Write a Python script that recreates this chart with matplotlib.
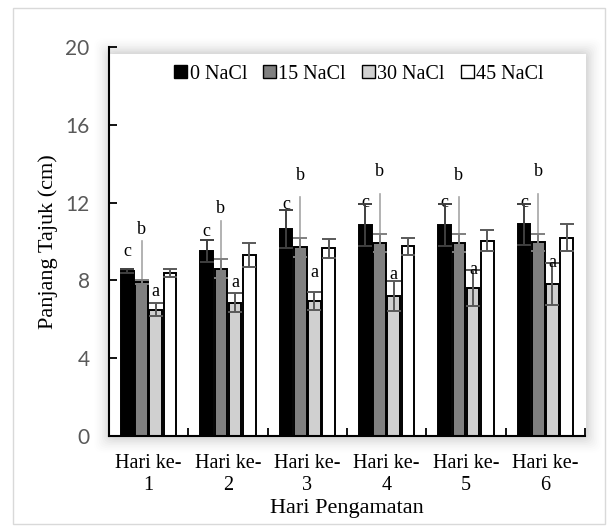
import matplotlib
matplotlib.use("Agg")
import matplotlib.pyplot as plt
import numpy as np
from matplotlib.patches import FancyBboxPatch, Rectangle

categories = ["Hari ke-\n1", "Hari ke-\n2", "Hari ke-\n3", "Hari ke-\n4", "Hari ke-\n5", "Hari ke-\n6"]
series_names = ["0 NaCl", "15 NaCl", "30 NaCl", "45 NaCl"]
v0 = [8.5, 9.5, 10.65, 10.85, 10.85, 10.88]
v15 = [7.9, 8.6, 9.7, 9.9, 9.9, 9.95]
v30 = [6.5, 6.85, 6.95, 7.2, 7.6, 7.8]
v45 = [8.4, 9.3, 9.65, 9.75, 10.05, 10.2]
e0 = [0.1, 0.57, 0.96, 1.06, 1.06, 1.05]
e15 = [0.1, 0.5, 0.5, 0.46, 0.46, 0.42]
e30 = [0.35, 0.48, 0.45, 0.79, 0.93, 1.07]
e45 = [0.2, 0.63, 0.5, 0.45, 0.55, 0.68]
# letters (significance) and their annotation heights
letters0 = ["c", "c", "c", "c", "c", "c"]
letters15 = ["b", "b", "b", "b", "b", "b"]
letters30 = ["a", "a", "a", "a", "a", "a"]
lab0_y = [9.5, 10.5, 11.9, 12.0, 12.0, 12.0]
lab15_y = [10.6, 11.7, 13.4, 13.6, 13.4, 13.6]
lab30_y = [7.45, 7.9, 8.4, 8.3, 8.55, 8.9]
leader15_top = [10.0, 11.05, 12.3, 12.45, 12.3, 12.45]

values = [v0, v15, v30, v45]
errors = [e0, e15, e30, e45]
colors = ["#000000", "#808080", "#d0d0d0", "#ffffff"]
err_colors = ["#404040", "#7f7f7f", "#595959", "#595959"]

fig = plt.figure(figsize=(6.09, 5.29), dpi=100)
fig.patch.set_facecolor("white")

# outer chart border
fig.patches.append(Rectangle((13/609, 1-524/529), 592/609, 516/529, transform=fig.transFigure,
                             fill=False, edgecolor="#d9d9d9", linewidth=1.0, zorder=0))
# plot-area glow
x0, y0, x1, y1 = 110/609, 1-437/529, 586/609, 1-54/529
for i, a in enumerate(np.linspace(0.025, 0.004, 10)):
    pad = (i + 1) * 1.6
    fig.patches.append(FancyBboxPatch((x0 - pad/609, y0 - pad/529), (x1 - x0) + 2*pad/609,
                                      (y1 - y0) + 2*pad/529, boxstyle="round,pad=0,rounding_size=0.015",
                                      transform=fig.transFigure, facecolor="black", edgecolor="none",
                                      alpha=a, zorder=0.1))
fig.patches.append(Rectangle((x0, y0), x1 - x0, y1 - y0, transform=fig.transFigure,
                             facecolor="white", edgecolor="none", zorder=0.5))

ax = fig.add_axes([109/609, 1-436/529, 476/609, 389/529])
ax.set_zorder(1)
ax.patch.set_alpha(0)

x = np.arange(len(categories))
w = 0.16
offs = np.array([-1.5, -0.5, 0.5, 1.5]) * 0.18
for k in range(4):
    ax.bar(x + offs[k], values[k], width=w, color=colors[k], edgecolor="black",
           linewidth=1.4, zorder=2, label=series_names[k])
    ax.errorbar(x + offs[k], values[k], yerr=errors[k], fmt="none", ecolor=err_colors[k],
                elinewidth=1.4, capsize=5, capthick=1.4, zorder=3)

serif = "Liberation Serif"
for i in range(len(categories)):
    ax.plot([x[i] + offs[1]] * 2, [v15[i], leader15_top[i]], color="#a6a6a6", lw=1.2, zorder=2.5)
    ax.text(x[i] + offs[0], lab0_y[i], letters0[i], ha="center", va="center", fontsize=13, family=serif, zorder=1.5)
    ax.text(x[i] + offs[1], lab15_y[i], letters15[i], ha="center", va="center", fontsize=13, family=serif)
    ax.text(x[i] + offs[2], lab30_y[i], letters30[i], ha="center", va="center", fontsize=13, family=serif)

ax.set_xlim(-0.5, len(categories) - 0.5)
ax.set_ylim(0, 20)
ax.set_yticks([0, 4, 8, 12, 16, 20])
ax.set_xticks(x)
ax.set_xticklabels(categories, family=serif, fontsize=14.5, linespacing=1.2)
ax.set_xticks(np.arange(len(categories) + 1) - 0.5, minor=True)
ax.tick_params(axis="x", which="major", length=0, pad=13)
ax.tick_params(axis="x", which="minor", direction="in", length=6, width=1.3)
ax.tick_params(axis="y", direction="in", length=6, width=1.3, labelcolor="#595959", labelsize=15, pad=14)
for lbl in ax.get_yticklabels():
    lbl.set_family("Lato")
for s in ["top", "right"]:
    ax.spines[s].set_visible(False)
for s in ["left", "bottom"]:
    ax.spines[s].set_linewidth(1.5)

ax.set_ylabel("Panjang Tajuk (cm)", family=serif, fontsize=16)
ax.yaxis.set_label_coords((58 - 109) / 476, 0.5)
ax.set_xlabel("Hari Pengamatan", family=serif, fontsize=16)
ax.xaxis.set_label_coords(0.5, (436 - 499) / 389)

leg = ax.legend(loc="upper center", bbox_to_anchor=(0.525, 0.975), ncol=4, frameon=False,
                prop={"family": serif, "size": 14.5}, handlelength=0.65, handleheight=0.65,
                handletextpad=0.1, columnspacing=0.8, borderaxespad=0)
for h in leg.legend_handles:
    h.set_linewidth(1.0)

fig.savefig("out.png", dpi=100)
